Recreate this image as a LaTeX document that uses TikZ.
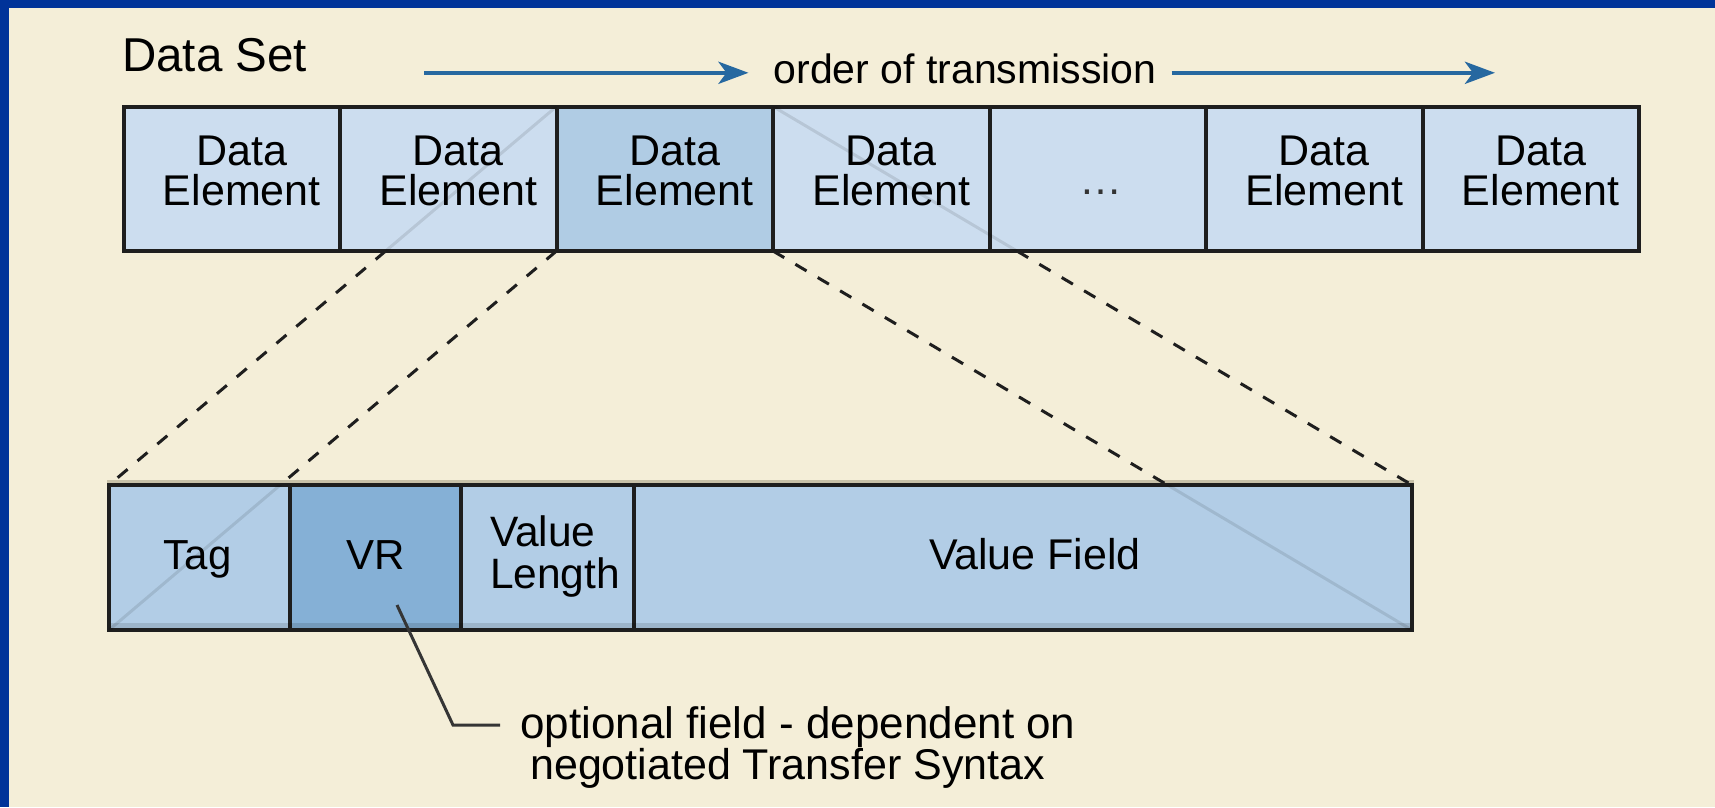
\documentclass[tikz,border=0pt]{standalone}
\usepackage{fontspec}
\setmainfont{Liberation Sans}
\usetikzlibrary{arrows.meta,calc,intersections}
\definecolor{bgc}{RGB}{244,238,216}
\definecolor{framec}{RGB}{0,51,153}
\definecolor{topfill}{RGB}{204,221,239}
\definecolor{selfill}{RGB}{176,204,228}
\definecolor{lowfill}{RGB}{178,205,230}
\definecolor{vrfill}{RGB}{133,176,214}
\definecolor{bordc}{RGB}{30,30,30}
\definecolor{dashc}{RGB}{30,30,30}
\definecolor{arrc}{RGB}{38,104,160}
\definecolor{tanc}{RGB}{200,193,168}
\begin{document}
\begin{tikzpicture}[x=1pt,y=-1pt,
  box/.style={draw=bordc, line width=4pt, inner sep=0pt, outer sep=0pt},
  topbox/.style={box, fill=topfill, minimum width=216.5pt, minimum height=144.5pt},
  lowbox/.style={box, fill=lowfill, minimum height=145pt},
  detxt/.style={font=\fontsize{43}{40}\selectfont, align=center, inner sep=0pt},
  lowtxt/.style={font=\fontsize{42}{41.6}\selectfont, inner sep=0pt, text height=30pt, text depth=9pt},
  dashline/.style={draw=dashc, line width=3pt, dash pattern=on 13pt off 13pt},
  faint/.style={draw=black, draw opacity=0.1, line width=3pt},
  arr/.style={draw=arrc, line width=4.5pt, -{Stealth[length=30pt,width=22pt,inset=8pt]}},
  leader/.style={draw=bordc!90, line width=3pt}
]
\useasboundingbox (0,0) rectangle (1715,807);
\fill[bgc] (0,0) rectangle (1715,807);
\fill[framec] (0,0) rectangle (1715,7.5);
\fill[framec] (0,0) rectangle (9,807);

% title and order of transmission
\node[font=\fontsize{47.5}{50}\selectfont, anchor=base west, inner sep=0pt] (ds) at (122,71.7) {Data Set};
\node[font=\fontsize{41}{44}\selectfont, anchor=base west, inner sep=0pt, text height=21pt, text depth=0pt] (ord) at (773.5,83.3) {order of transmission};
\coordinate (a1s) at (424,72.8);
\coordinate (a2e) at (1495,72.8);
\draw[arr] (a1s) -- ([xshift=-25pt]ord.west);
\draw[arr] ([xshift=15pt]ord.east) -- (a2e);

% top row
\node[topbox] (E1) at (231.75,178.75) {};
\node[topbox] (E2) at (448.25,178.75) {};
\node[topbox, fill=selfill] (E3) at (664.75,178.75) {};
\node[topbox] (E4) at (881.25,178.75) {};
\node[topbox] (E5) at (1097.75,178.75) {};
\node[topbox] (E6) at (1314.25,178.75) {};
\node[topbox] (E7) at (1530.75,178.75) {};

% lower row
\draw[tanc, line width=3pt] (107,481.5) -- (1414,481.5);
\node[lowbox, minimum width=180.5pt] (Tag) at (199.25,557.5) {};
\node[lowbox, fill=vrfill, minimum width=171.5pt] (VR) at (375.25,557.5) {};
\node[lowbox, minimum width=173pt] (VL) at (547.5,557.5) {};
\node[lowbox, minimum width=778pt] (VF) at (1023,557.5) {};
\draw[draw=black, draw opacity=0.12, line width=5pt] ([shift={(2pt,5pt)}]Tag.south west) -- ([shift={(-2pt,5pt)}]VF.south east);

% expansion lines
\path[name path=rowbot] (E1.south west) -- (E7.south east);
\path[name path=lowtop] (Tag.north west) -- (VF.north east);
\path[name path=L1] (E3.north west) -- (Tag.north west);
\path[name path=L2] (E3.south west) -- (Tag.south west);
\path[name path=L3] (E3.north east) -- (VF.north east);
\path[name path=L4] (E3.south east) -- (VF.south east);
\path[name intersections={of=L1 and rowbot, by=i1}];
\path[name intersections={of=L2 and lowtop, by=i2}];
\path[name intersections={of=L3 and rowbot, by=i3}];
\path[name intersections={of=L4 and lowtop, by=i4}];
\begin{scope}
  \clip (E1.north west) rectangle (E7.south east) (Tag.north west) rectangle (VF.south east);
  \draw[faint] (E3.north west) -- (Tag.north west);
  \draw[faint] (E3.south west) -- (Tag.south west);
  \draw[faint] (E3.north east) -- (VF.north east);
  \draw[faint] (E3.south east) -- (VF.south east);
\end{scope}
\draw[dashline] (i1) -- (Tag.north west);
\draw[dashline] (E3.south west) -- (i2);
\draw[dashline] (i3) -- (VF.north east);
\draw[dashline] (E3.south east) -- (i4);

% texts in top row
\foreach \n in {E1,E2,E3,E4,E6,E7}{
  \node[detxt] at ([shift={(10pt,8pt)}]\n.center) {Data\\Element};
}
\node[font=\fontsize{43}{40}\selectfont, anchor=base, inner sep=0pt, text=black!80] (dots) at (1101,194) {…};

% texts in lower row
\node[lowtxt] (tagt) at ([shift={(-1.5pt,-1pt)}]Tag.center) {Tag};
\node[lowtxt] (vrt) at ([shift={(0pt,-1pt)}]VR.center) {VR};
\node[font=\fontsize{42.5}{41.6}\selectfont, align=left, inner sep=0pt] (vlt) at ([shift={(7.5pt,1pt)}]VL.center) {Value\\Length};
\node[font=\fontsize{43}{41.6}\selectfont, inner sep=0pt, text height=30pt, text depth=9pt] (vft) at (1035,558.5) {Value Field};

% annotation
\coordinate (vrp) at (397,605);
\coordinate (bend) at (453,725);
\coordinate (lend) at (500,725);
\draw[leader] (vrp) -- (bend) -- (lend);
\node[font=\fontsize{43}{39}\selectfont, align=left, anchor=north west, inner sep=0pt] (ann) at (520,706.5) {{\fontsize{44}{39}\selectfont optional field - dependent on}\\\hspace*{10pt}negotiated Transfer Syntax};
\end{tikzpicture}
\end{document}
